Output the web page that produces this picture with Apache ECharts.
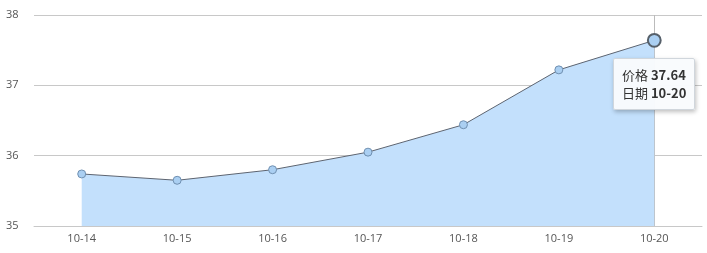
<!DOCTYPE html>
<html>
<head>
<meta charset="utf-8">
<script src="https://cdn.jsdelivr.net/npm/echarts@6/dist/echarts.min.js"></script>
<style>
  html, body { margin: 0; padding: 0; background: #fff; }
  #chart { width: 707px; height: 253px; }
</style>
</head>
<body>
<div id="chart"></div>
<script>
// 日期与价格
const dates = ['10-14', '10-15', '10-16', '10-17', '10-18', '10-19', '10-20']
const prices = [35.74, 35.65, 35.80, 36.05, 36.44, 37.22, 37.64]
const yTicks = [35, 36, 37, 38]

const chart = echarts.init(document.getElementById('chart'))
const labelColor = '#555'
const gridColor = '#c8c8c8'
const areaColor = '#c3e0fc'

chart.setOption({
  animation: false,
  grid: { left: 34, right: 5, top: 15, bottom: 27 },
  tooltip: {
    trigger: 'axis',
    triggerOn: 'none',
    alwaysShowContent: true,
    position: [613, 58],
    backgroundColor: 'rgba(249,251,253,0.97)',
    borderColor: '#d0d6dc',
    borderWidth: 1,
    padding: [7, 8],
    extraCssText: 'box-shadow: 1px 2px 4px rgba(0,0,0,0.25); border-radius: 2px;',
    textStyle: { fontFamily: 'Noto Sans CJK SC', fontSize: 13, color: '#333' },
    axisPointer: { type: 'line', lineStyle: { color: '#bbb', width: 1, type: 'solid' }, z: 1 },
    formatter: (params) => {
      const p = params[0]
      return '<div style="line-height:18px">价格 <b>' + p.value.toFixed(2) + '</b><br>日期 <b>' + p.name + '</b></div>'
    }
  },
  xAxis: {
    type: 'category',
    data: dates,
    boundaryGap: true,
    axisLine: { lineStyle: { color: gridColor } },
    axisTick: { alignWithLabel: true, length: 6, lineStyle: { color: gridColor } },
    axisLabel: { color: labelColor, fontSize: 11, fontFamily: 'Open Sans', margin: 7 }
  },
  yAxis: {
    type: 'value',
    min: yTicks[0],
    max: yTicks[yTicks.length - 1],
    interval: 1,
    axisLine: { show: false },
    axisTick: { show: false },
    splitLine: { lineStyle: { color: gridColor } },
    axisLabel: { color: labelColor, fontSize: 11, fontFamily: 'Open Sans', align: 'left', margin: 28 }
  },
  series: [{
    name: '价格',
    type: 'line',
    data: prices,
    symbol: 'circle',
    symbolSize: 8,
    lineStyle: { color: '#5d6470', width: 1 },
    itemStyle: { color: '#aacff2', borderColor: '#6f8fb0', borderWidth: 1 },
    areaStyle: { color: areaColor, opacity: 1, origin: 'start' },
    emphasis: {
      scale: 1.6,
      lineStyle: { color: '#5d6470', width: 1 },
      areaStyle: { color: areaColor, opacity: 1 },
      itemStyle: { color: '#aacff2', borderColor: '#56606a', borderWidth: 2 }
    }
  }]
})

chart.dispatchAction({ type: 'showTip', seriesIndex: 0, dataIndex: 6 })
chart.dispatchAction({ type: 'highlight', seriesIndex: 0, dataIndex: 6 })
</script>
</body>
</html>
